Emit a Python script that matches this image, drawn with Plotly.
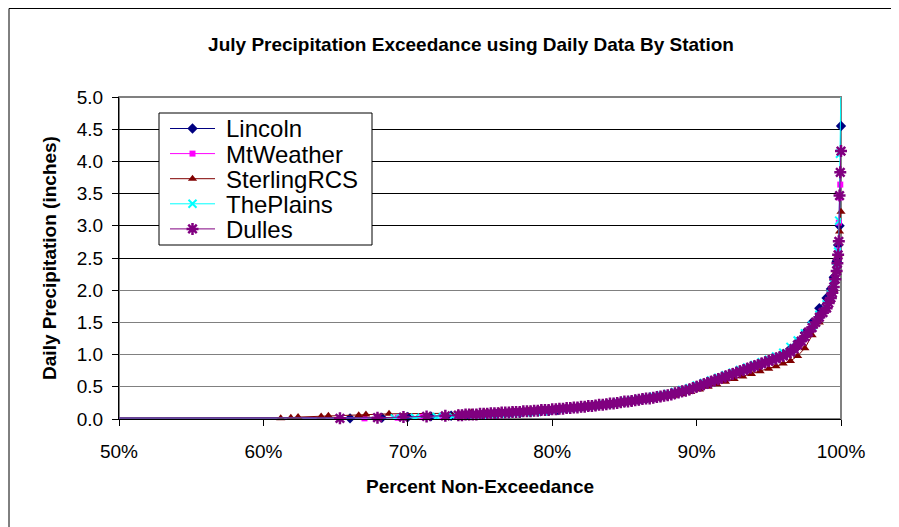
import plotly.graph_objects as go

# ---- data: percent non-exceedance (%) and daily precipitation (inches) ----
station_names = ["Lincoln", "MtWeather", "SterlingRCS", "ThePlains", "Dulles"]

lincoln_pct = [0, 66.0, 68.2, 70.0, 71.6, 73.0, 74.2, 75.2, 76.1, 77.0, 77.8, 78.5, 79.2, 79.8, 80.4, 81.0,
               81.5, 82.0, 82.5, 83.0, 83.5, 84.0, 84.5, 85.0, 85.5, 86.0, 86.5, 87.0, 87.5, 88.0, 88.5,
               89.0, 89.5, 90.0, 90.5, 91.0, 91.5, 92.0, 92.5, 93.0, 93.5, 94.0, 94.5, 95.0, 95.5, 96.0,
               96.5, 97.0, 97.5, 98.0, 98.5, 99.0, 99.3, 99.5, 99.7, 99.8, 99.9, 100.0]
lincoln_val = [0, 0.01, 0.02, 0.03, 0.04, 0.05, 0.06, 0.07, 0.08, 0.09, 0.10, 0.11, 0.12, 0.13, 0.14, 0.16,
               0.17, 0.18, 0.19, 0.20, 0.22, 0.23, 0.25, 0.26, 0.28, 0.29, 0.31, 0.33, 0.35, 0.37, 0.40,
               0.43, 0.46, 0.50, 0.53, 0.57, 0.61, 0.65, 0.69, 0.73, 0.77, 0.81, 0.85, 0.90, 0.95, 1.01,
               1.09, 1.20, 1.34, 1.50, 1.72, 1.88, 2.02, 2.20, 2.45, 2.70, 3.00, 4.55]

mtweather_pct = [0, 67.0, 69.3, 71.0, 72.4, 73.6, 74.6, 75.5, 76.4, 77.2, 77.9, 78.6, 79.3, 79.9, 80.5, 81.0,
                 81.5, 82.0, 82.5, 83.0, 83.5, 84.0, 84.5, 85.0, 85.5, 86.0, 86.5, 87.0, 87.5, 88.0, 88.5,
                 89.0, 89.5, 90.0, 90.5, 91.0, 91.5, 92.0, 92.5, 93.0, 93.5, 94.0, 94.5, 95.0, 95.5, 96.0,
                 96.5, 97.0, 97.5, 98.0, 98.5, 99.0, 99.3, 99.5, 99.7, 99.8, 99.85, 99.9, 99.95, 100.0]
mtweather_val = [0, 0.01, 0.02, 0.03, 0.04, 0.05, 0.06, 0.07, 0.08, 0.09, 0.10, 0.11, 0.12, 0.13, 0.14, 0.15,
                 0.16, 0.18, 0.19, 0.20, 0.21, 0.23, 0.24, 0.26, 0.27, 0.29, 0.31, 0.32, 0.34, 0.36, 0.39,
                 0.42, 0.45, 0.49, 0.53, 0.57, 0.61, 0.65, 0.69, 0.73, 0.77, 0.81, 0.85, 0.89, 0.93, 0.98,
                 1.05, 1.16, 1.29, 1.43, 1.60, 1.76, 1.90, 2.08, 2.34, 2.62, 3.05, 3.44, 3.64, 4.15]

sterling_pct = [0, 61.2, 61.9, 62.4, 64.0, 64.5, 66.6, 67.1, 68.7, 73.5, 74.4, 75.3, 76.3, 77.3, 78.3, 79.2,
                80.2, 81.0, 81.7, 82.4, 83.0, 83.6, 84.2, 84.8, 85.4, 86.0, 86.6, 87.2, 87.8, 88.4, 89.0,
                89.6, 90.2, 90.8, 91.4, 92.0, 92.6, 93.2, 93.8, 94.4, 95.0, 95.5, 96.0, 96.5, 97.0, 97.5,
                98.0, 98.5, 99.0, 99.3, 99.5, 99.7, 99.8, 99.9, 100.0]
sterling_val = [0, 0.01, 0.02, 0.03, 0.04, 0.05, 0.06, 0.07, 0.08, 0.09, 0.10, 0.11, 0.12, 0.13, 0.14, 0.15,
                0.16, 0.17, 0.18, 0.20, 0.21, 0.22, 0.24, 0.25, 0.27, 0.28, 0.30, 0.32, 0.34, 0.36, 0.39,
                0.42, 0.46, 0.50, 0.54, 0.58, 0.62, 0.66, 0.70, 0.74, 0.78, 0.82, 0.86, 0.90, 0.98, 1.10,
                1.30, 1.50, 1.70, 1.85, 2.00, 2.30, 2.55, 2.91, 3.22]

theplains_pct = [0, 69.1, 70.5, 72.0, 73.1, 74.2, 75.2, 76.0, 76.8, 77.5, 78.2, 78.8, 79.4, 80.0, 80.5, 81.0,
                 81.5, 82.0, 82.5, 83.0, 83.5, 84.0, 84.5, 85.0, 85.5, 86.0, 86.5, 87.0, 87.5, 88.0, 88.5,
                 89.0, 89.5, 90.0, 90.5, 91.0, 91.5, 92.0, 92.5, 93.0, 93.5, 94.0, 94.5, 95.0, 95.5, 96.0,
                 96.5, 97.0, 97.5, 98.0, 98.5, 99.0, 99.3, 99.5, 99.7, 99.8, 99.87, 99.93, 100.0]
theplains_val = [0, 0.01, 0.02, 0.03, 0.04, 0.05, 0.06, 0.07, 0.08, 0.09, 0.10, 0.11, 0.12, 0.14, 0.15, 0.16,
                 0.17, 0.19, 0.20, 0.21, 0.23, 0.24, 0.26, 0.28, 0.29, 0.31, 0.33, 0.35, 0.37, 0.39, 0.42,
                 0.45, 0.48, 0.52, 0.56, 0.60, 0.64, 0.68, 0.72, 0.76, 0.80, 0.84, 0.88, 0.92, 0.97, 1.03,
                 1.12, 1.22, 1.33, 1.45, 1.62, 1.78, 1.93, 2.10, 2.35, 2.60, 3.08, 4.12, 5.30]

dulles_pct = [0, 65.3, 67.9, 69.7, 71.3, 72.6, 73.5, 73.75, 74.0, 74.25, 74.5, 74.75, 75.0, 75.25, 75.5, 75.75,
              76.0, 76.25, 76.5, 76.75, 77.0, 77.25, 77.5, 77.75, 78.0, 78.25, 78.5, 78.75, 79.0, 79.25,
              79.5, 79.75, 80.0, 80.25, 80.5, 80.75, 81.0, 81.25, 81.5, 81.75, 82.0, 82.25, 82.5, 82.75,
              83.0, 83.25, 83.5, 83.75, 84.0, 84.25, 84.5, 84.75, 85.0, 85.25, 85.5, 85.75, 86.0, 86.25,
              86.5, 86.75, 87.0, 87.25, 87.5, 87.75, 88.0, 88.25, 88.5, 88.75, 89.0, 89.25, 89.5, 89.75,
              90.0, 90.25, 90.5, 90.75, 91.0, 91.25, 91.5, 91.75, 92.0, 92.25, 92.5, 92.75, 93.0, 93.25,
              93.5, 93.75, 94.0, 94.25, 94.5, 94.75, 95.0, 95.25, 95.5, 95.75, 96.0, 96.25, 96.5, 96.75,
              97.0, 97.25, 97.5, 97.75, 98.0, 98.25, 98.5, 98.75, 99.0, 99.15, 99.3, 99.4, 99.5, 99.6,
              99.7, 99.75, 99.8, 99.85, 99.9, 99.95, 100.0]
dulles_val = [0, 0.01, 0.02, 0.03, 0.04, 0.05, 0.06, 0.06, 0.07, 0.07, 0.07, 0.07, 0.08, 0.08, 0.08, 0.09,
              0.09, 0.09, 0.10, 0.10, 0.10, 0.11, 0.11, 0.11, 0.12, 0.12, 0.12, 0.13, 0.13, 0.14,
              0.14, 0.14, 0.15, 0.15, 0.16, 0.16, 0.17, 0.17, 0.18, 0.18, 0.19, 0.19, 0.20, 0.20,
              0.21, 0.22, 0.22, 0.23, 0.24, 0.24, 0.25, 0.26, 0.27, 0.27, 0.28, 0.29, 0.30, 0.31,
              0.32, 0.32, 0.33, 0.34, 0.35, 0.36, 0.37, 0.38, 0.40, 0.41, 0.43, 0.44, 0.46, 0.48,
              0.50, 0.52, 0.54, 0.56, 0.58, 0.60, 0.62, 0.64, 0.66, 0.68, 0.70, 0.72, 0.74, 0.76,
              0.78, 0.80, 0.82, 0.84, 0.86, 0.88, 0.90, 0.92, 0.94, 0.96, 0.98, 1.01, 1.04, 1.09,
              1.15, 1.21, 1.28, 1.35, 1.42, 1.50, 1.58, 1.65, 1.72, 1.80, 1.88, 1.96, 2.05, 2.17,
              2.30, 2.42, 2.55, 2.76, 3.47, 3.83, 4.16]

x_ticks = [0.5, 0.6, 0.7, 0.8, 0.9, 1.0]
y_ticks = [0.0, 0.5, 1.0, 1.5, 2.0, 2.5, 3.0, 3.5, 4.0, 4.5, 5.0]
y_ticks_dark = [2.5, 3.0, 3.5, 4.0, 4.5]

FONT = "Liberation Sans, Arial, sans-serif"

series = [
    (station_names[0], lincoln_pct, lincoln_val, "#000080", dict(symbol="diamond", size=8), False),
    (station_names[1], mtweather_pct, mtweather_val, "#FF00FF", dict(symbol="square", size=6), False),
    (station_names[2], sterling_pct, sterling_val, "#800000", dict(symbol="triangle-up", size=8), False),
    (station_names[3], theplains_pct, theplains_val, "#00FFFF",
     dict(symbol="x-thin-open", size=8, line=dict(width=2)), True),
    (station_names[4], dulles_pct, dulles_val, "#800080",
     dict(symbol="asterisk-open", size=10, line=dict(width=2.5)), False),
]

fig = go.Figure()
for name, pct, val, color, mk, clip in series:
    marker = dict(color=color, **mk)
    if "line" in marker:
        marker["line"] = dict(color=color, **mk["line"])
    # legend labels are drawn as annotations (Excel-like tight spacing), so the
    # legend entry itself carries only the line/marker sample
    fig.add_trace(go.Scatter(
        x=[p / 100 for p in pct], y=val, mode="lines+markers", name="",
        legendgroup=name, showlegend=True,
        hovertemplate=name + "<br>%{x:.1%}, %{y:.2f} in<extra></extra>",
        line=dict(color=color, width=1), marker=marker, cliponaxis=clip,
    ))

# overlay axis only used for the darker upper gridlines
fig.add_trace(go.Scatter(x=[None], y=[None], yaxis="y2", showlegend=False, hoverinfo="skip"))

# figure is placed at (8, 8) in the page by the default body margin
W, H = 891, 519
ml, mr, mt, mb = 111, 58, 89, 108
pw, ph = W - ml - mr, H - mt - mb
OFF = 8

def px2paper_x(px):   # page px -> paper
    return (px - OFF - ml) / pw

def py2paper_y(py):
    return (H - mb - (py - OFF)) / ph

LEG_FS = 17
leg_item_h = LEG_FS * 1.3 + 3
leg_first_center = 129  # page px
leg_top = leg_first_center - (leg_item_h / 2 + 5.5)

annotations = []
for i, name in enumerate(station_names):
    annotations.append(dict(
        text=name, xref="paper", yref="paper",
        x=px2paper_x(224), y=py2paper_y(leg_first_center + i * leg_item_h),
        xanchor="left", yanchor="middle", showarrow=False,
        font=dict(family=FONT, size=24, color="black"),
    ))

fig.update_layout(
    width=W, height=H,
    margin=dict(l=ml, r=mr, t=mt, b=mb, pad=0),
    paper_bgcolor="white", plot_bgcolor="white",
    font=dict(family=FONT, color="black", size=19),
    title=dict(text="<b>July Precipitation Exceedance using Daily Data By Station</b>",
               x=px2paper_x(471), xref="paper", xanchor="center",
               y=1 - (44 - OFF) / H, yref="container", yanchor="middle",
               font=dict(family=FONT, size=19, color="black")),
    xaxis=dict(range=[0.5, 1.0], tickvals=x_ticks, tickformat=".0%",
               showgrid=False, zeroline=False, showline=True, linecolor="black", linewidth=1,
               ticks="outside", ticklen=6, tickcolor="black", ticklabelstandoff=9,
               tickfont=dict(family=FONT, size=19),
               title=dict(text="<b>Percent Non-Exceedance</b>", font=dict(family=FONT, size=19),
                          standoff=18)),
    yaxis=dict(range=[0, 5], tickvals=y_ticks, tickformat=".1f",
               showgrid=True, gridcolor="#808080", gridwidth=1,
               zeroline=False, showline=True, linecolor="black", linewidth=1,
               ticks="outside", ticklen=6, tickcolor="black", ticklabelstandoff=5,
               tickfont=dict(family=FONT, size=19),
               title=dict(text="<b>Daily Precipitation (inches)</b>", font=dict(family=FONT, size=19),
                          standoff=15)),
    yaxis2=dict(range=[0, 5], overlaying="y", tickvals=y_ticks_dark, showticklabels=False,
                showgrid=True, gridcolor="black", gridwidth=1, zeroline=False, showline=False,
                ticks=""),
    legend=dict(x=px2paper_x(165), y=py2paper_y(leg_top), xanchor="left", yanchor="top",
                bgcolor="rgba(0,0,0,0)", borderwidth=0,
                font=dict(family=FONT, size=LEG_FS, color="black"),
                itemwidth=45, tracegroupgap=0),
    showlegend=True,
    annotations=annotations,
    shapes=[
        # plot-area border (gray)
        dict(type="rect", xref="paper", yref="paper", x0=0, x1=1, y0=0, y1=1,
             line=dict(color="#808080", width=2), layer="below"),
        # legend box
        dict(type="rect", xref="paper", yref="paper",
             x0=px2paper_x(159), x1=px2paper_x(372), y0=py2paper_y(245), y1=py2paper_y(113),
             line=dict(color="black", width=1), fillcolor="white", layer="above"),
        # chart-area frame
        dict(type="rect", xref="paper", yref="paper",
             x0=px2paper_x(9), x1=px2paper_x(960), y0=py2paper_y(600), y1=py2paper_y(8.5),
             line=dict(color="black", width=1), layer="below"),
    ],
)

fig.write_html("out.html")
